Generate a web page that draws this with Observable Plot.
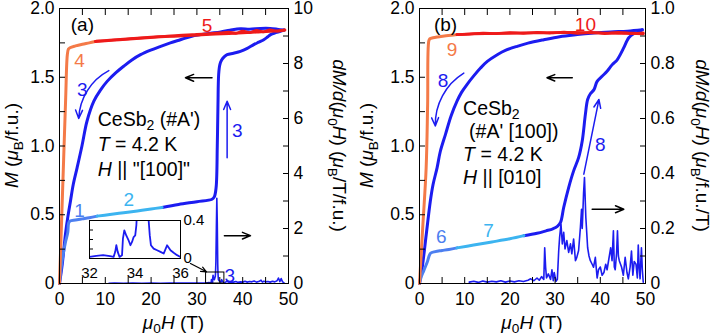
<!DOCTYPE html>
<html><head><meta charset="utf-8">
<script src="https://cdn.jsdelivr.net/npm/d3@7"></script>
<script src="https://cdn.jsdelivr.net/npm/@observablehq/plot@0.6"></script>
<style>
html,body{margin:0;padding:0;background:#fff;}
#wrap{position:relative;width:710px;height:336px;overflow:hidden;background:#fff;}
#wrap svg{position:absolute;top:0;overflow:visible;}
</style></head><body><div id="wrap"></div>
<script>
// ---------- colours / font ----------
const FONT = "'Liberation Sans', Arial, Helvetica, sans-serif";
const BLUE = "#1c1cf0", MBLUE = "#4d7ff0", LBLUE = "#3cb4f0", ORANGE = "#f47a48", RED = "#ee1a1a";

// ---------- ticks ----------
const xMajor = [0, 10, 20, 30, 40, 50];
const xMinor = [0, 5, 10, 15, 20, 25, 30, 35, 40, 45, 50];
const yMajor = [0, 0.5, 1.0, 1.5, 2.0];
const yMinor = [0, 0.25, 0.5, 0.75, 1.0, 1.25, 1.5, 1.75, 2.0];
const rightA = [0, 2, 4, 6, 8, 10];
const rightAMinor = [0, 1, 2, 3, 4, 5, 6, 7, 8, 9, 10];
const rightB = [0, 0.2, 0.4, 0.6, 0.8, 1.0];
const rightBMinor = [0, 0.1, 0.2, 0.3, 0.4, 0.5, 0.6, 0.7, 0.8, 0.9, 1.0];
const insetXDomain = [32, 36];
const insetYDomain = [0, 0.4];
const insetXTicks = [32, 34, 36];
const insetYTicks = [0, 0.4];
const insetYMinor = [0.1, 0.2, 0.3];

// ---------- panel (a) data ----------
const a1H = [0, 0.5, 1.3, 1.8, 2.0, 2.3, 3.5, 5, 6.5, 8.2];
const a1M = [0, 0.15, 0.3, 0.37, 0.44, 0.455, 0.462, 0.47, 0.478, 0.49];
const a2H = [8.2, 11, 14, 17, 20, 22.4];
const a2M = [0.49, 0.502, 0.515, 0.528, 0.542, 0.553];
const a3upH = [22.4, 26, 30, 33.3, 33.8, 34.2, 34.45, 34.6, 34.75, 35.0, 35.4, 36.0, 36.6, 38, 39.5, 41, 42.4, 43.5, 44.6, 45.5, 46.1, 47, 47.9, 49.0];
const a3upM = [0.553, 0.575, 0.595, 0.613, 0.63, 0.7, 1.0, 1.3, 1.52, 1.59, 1.625, 1.65, 1.664, 1.675, 1.688, 1.71, 1.737, 1.755, 1.773, 1.795, 1.81, 1.822, 1.83, 1.843];
const a3dnH = [49.0, 47.5, 46, 43.9, 41.5, 39.5, 37.2, 35.2, 33, 30.8, 28.5, 26.4, 24.2, 22.1, 19.9, 17.7, 15.8, 14.0, 12.2, 10.4, 8.9, 7.5, 6.0, 4.9, 3.85, 3.0, 2.4, 1.8, 1.3, 0.6, 0];
const a3dnM = [1.843, 1.85, 1.855, 1.855, 1.85, 1.853, 1.842, 1.83, 1.82, 1.81, 1.795, 1.773, 1.75, 1.725, 1.697, 1.664, 1.626, 1.58, 1.53, 1.47, 1.405, 1.326, 1.18, 1.0, 0.843, 0.72, 0.6, 0.48, 0.358, 0.14, 0];
const a4H = [0, 0.45, 0.9, 1.35, 1.7, 1.95, 2.3, 3.5, 5, 6.5, 7.8];
const a4M = [0, 0.45, 0.9, 1.35, 1.66, 1.705, 1.715, 1.728, 1.74, 1.75, 1.76];
const a5aH = [7.8, 10, 13, 16, 19, 22, 25, 28, 31, 34, 37, 40, 43, 46, 48, 49.2];
const a5aM = [1.76, 1.765, 1.772, 1.78, 1.787, 1.793, 1.798, 1.803, 1.808, 1.813, 1.818, 1.823, 1.828, 1.833, 1.838, 1.842];
const a5bH = [49.2, 47.5, 46, 44.5, 43, 41.5, 40, 38.5, 37, 35, 32, 29, 26, 23, 20, 17, 14, 11, 8];
const a5bM = [1.845, 1.835, 1.845, 1.83, 1.84, 1.825, 1.835, 1.82, 1.828, 1.822, 1.815, 1.81, 1.805, 1.798, 1.792, 1.785, 1.777, 1.77, 1.762];
const aDmH = [10.8, 12, 14, 16, 18, 20, 22, 24, 26, 28, 30, 31, 32, 32.3, 32.6, 32.9, 33.06, 33.13, 33.18, 33.24, 33.32, 33.43, 33.47, 33.53, 33.62, 33.72, 33.8, 33.87, 33.94, 34.01, 34.06, 34.15, 34.25, 34.35, 34.45, 34.55, 34.6, 34.65, 34.7, 34.82, 34.97, 35.12, 35.26, 35.41, 35.56, 35.7, 35.85, 36, 36.5, 37, 37.5, 38, 38.5, 39, 39.5, 40, 40.5, 41, 41.5, 42, 42.5, 43, 43.5, 44, 44.3, 44.6, 45, 45.5, 46, 46.5, 47, 47.5, 47.8, 48.1, 48.4, 48.7, 49];
const aDmV = [0.01, 0.015, 0.01, 0.015, 0.01, 0.015, 0.01, 0.015, 0.012, 0.015, 0.015, 0.02, 0.017, 0.028, 0.035, 0.025, 0.017, 0.07, 0.14, 0.07, 0.017, 0.035, 0.21, 0.296, 0.24, 0.19, 0.14, 0.174, 0.226, 0.243, 0.35, 0.8, 2.0, 3.1, 2.2, 0.7, 0.4, 0.243, 0.14, 0.104, 0.087, 0.07, 0.052, 0.139, 0.087, 0.06, 0.035, 0.017, 0.08, 0.04, 0.06, 0.05, 0.07, 0.04, 0.06, 0.05, 0.08, 0.05, 0.07, 0.06, 0.09, 0.05, 0.07, 0.12, 0.05, 0.08, 0.06, 0.07, 0.05, 0.08, 0.06, 0.1, 0.2, 0.07, 0.18, 0.06, 0.03];

// ---------- panel (b) data ----------
const b1H = [0, 0.4, 0.95, 1.7, 2.43, 3.5, 5, 6.5, 8.3];
const b1M = [0, 0.05, 0.094, 0.154, 0.22, 0.232, 0.24, 0.248, 0.259];
const b2H = [8.3, 12, 16, 20, 23.1];
const b2M = [0.259, 0.28, 0.302, 0.325, 0.348];
const b3upH = [23.1, 26, 28, 29.5, 30.5, 31.2, 31.9, 33.0, 34.1, 35.2, 36.0, 36.7, 37.2, 37.8, 38.6, 39.3, 40.4, 41.5, 42.6, 43.7, 44.5, 45.2, 46.3, 47.3, 48.2, 49.3];
const b3upM = [0.348, 0.365, 0.383, 0.398, 0.415, 0.444, 0.553, 0.698, 0.819, 0.915, 1.036, 1.23, 1.338, 1.38, 1.41, 1.47, 1.507, 1.543, 1.59, 1.625, 1.67, 1.715, 1.787, 1.815, 1.825, 1.845];
const b3dnH = [49.3, 46, 42.3, 38, 34.9, 31, 27.5, 24, 21.6, 19, 17.2, 15, 13.5, 12, 10.5, 9.3, 8.3, 7, 5.75, 4.6, 3.9, 3.0, 2.4, 1.5, 0.6, 0];
const b3dnM = [1.845, 1.835, 1.83, 1.82, 1.81, 1.795, 1.773, 1.748, 1.725, 1.695, 1.664, 1.615, 1.567, 1.51, 1.447, 1.39, 1.326, 1.22, 1.085, 0.96, 0.843, 0.72, 0.6, 0.358, 0.116, 0];
const b4H = [0, 0.7, 1.47, 1.8, 2.06, 2.3, 3, 4, 5.5, 7, 8.3];
const b4M = [0, 0.4, 0.84, 1.3, 1.765, 1.78, 1.787, 1.793, 1.8, 1.805, 1.81];
const b5aH = [8.3, 12, 16, 20, 24, 28, 32, 36, 40, 44, 47, 49.5];
const b5aM = [1.81, 1.815, 1.818, 1.82, 1.823, 1.823, 1.825, 1.825, 1.822, 1.82, 1.82, 1.815];
const b5bH = [49.5, 47, 44, 41, 38, 35, 32, 29, 26, 23, 20, 17, 14, 11, 8.3];
const b5bM = [1.822, 1.818, 1.826, 1.818, 1.827, 1.82, 1.828, 1.822, 1.826, 1.82, 1.824, 1.818, 1.82, 1.814, 1.81];
const bDmH = [11, 12, 13, 14, 15, 16, 17, 18, 19, 20, 21, 22, 23, 24, 24.6, 25.3, 26, 26.5, 27, 27.5, 27.7, 27.9, 28.1, 28.5, 29, 29.3, 29.6, 29.8, 30.2, 30.5, 30.8, 31.0, 31.3, 31.6, 31.9, 32.2, 32.6, 33.0, 33.4, 33.7, 34.1, 34.5, 34.8, 35.2, 35.6, 35.85, 36.0, 36.1, 36.3, 36.5, 36.8, 37.2, 37.5, 37.8, 38.2, 38.5, 38.9, 39.3, 39.6, 40.0, 40.4, 40.8, 41.2, 41.5, 41.9, 42.3, 42.6, 42.9, 43.1, 43.3, 43.6, 43.8, 44.0, 44.2, 44.7, 45.1, 45.5, 45.9, 46.2, 46.6, 46.9, 47.2, 47.5, 47.9, 48.2, 48.4, 48.6, 48.8, 49.1, 49.3, 49.5];
const bDmV = [0.005, 0.008, 0.004, 0.009, 0.005, 0.008, 0.006, 0.01, 0.005, 0.009, 0.006, 0.01, 0.007, 0.012, 0.017, 0.01, 0.02, 0.012, 0.025, 0.015, 0.13, 0.06, 0.02, 0.035, 0.015, 0.05, 0.01, 0.04, 0.008, 0.015, 0.12, 0.168, 0.216, 0.144, 0.186, 0.126, 0.156, 0.113, 0.144, 0.108, 0.162, 0.083, 0.095, 0.12, 0.204, 0.27, 0.2, 0.24, 0.33, 0.385, 0.24, 0.13, 0.1, 0.083, 0.07, 0.059, 0.095, 0.02, 0.05, 0.06, 0.03, 0.04, 0.07, 0.05, 0.09, 0.13, 0.083, 0.192, 0.06, 0.05, 0.11, 0.192, 0.1, 0.083, 0.06, 0.03, 0.095, 0.04, 0.017, 0.06, 0.118, 0.03, 0.08, 0.07, 0.02, 0.14, 0.06, 0.017, 0.13, 0.05, 0.005];

// ---------- annotations ----------
const labelsA = [
  {t: "(a)", x: 5.0, y: 1.884, c: "black"},
  {t: "5", x: 32.2, y: 1.87, c: RED},
  {t: "4", x: 4.4, y: 1.616, c: ORANGE},
  {t: "3", x: 4.95, y: 1.41, c: BLUE},
  {t: "1", x: 4.4, y: 0.529, c: MBLUE},
  {t: "2", x: 15.1, y: 0.606, c: LBLUE},
  {t: "3", x: 38.8, y: 1.11, c: BLUE},
  {t: "3", x: 37.2, y: 0.058, c: BLUE}
];
const arrowsA = [
  {x1: 33.3, y1: 1.496, x2: 27.5, y2: 1.496, c: "black", bend: 0, w: 1.5},
  {x1: 36.0, y1: 0.348, x2: 41.7, y2: 0.348, c: "black", bend: 0, w: 1.5},
  {x1: 36.6, y1: 0.915, x2: 36.6, y2: 1.326, c: BLUE, bend: 0, w: 1.5},
  {x1: 10.77, y1: 1.548, x2: 4.2, y2: 1.2, c: BLUE, bend: -30, w: 1.5},
  {x1: 28.6, y1: 0.145, x2: 32.1, y2: 0.085, c: "black", bend: 0, w: 1.2}
];
const labelsB = [
  {t: "(b)", x: 5.75, y: 1.88, c: "black"},
  {t: "10", x: 36.7, y: 1.88, c: RED},
  {t: "9", x: 7.2, y: 1.70, c: ORANGE},
  {t: "8", x: 5.2, y: 1.47, c: BLUE},
  {t: "8", x: 40.0, y: 1.01, c: BLUE},
  {t: "6", x: 4.8, y: 0.336, c: MBLUE},
  {t: "7", x: 15.3, y: 0.384, c: LBLUE}
];
const arrowsB = [
  {x1: 33.8, y1: 1.496, x2: 28.2, y2: 1.496, c: "black", bend: 0, w: 1.5},
  {x1: 38.2, y1: 0.54, x2: 45.2, y2: 0.54, c: "black", bend: 0, w: 1.5},
  {x1: 36.35, y1: 0.795, x2: 39.7, y2: 1.338, c: BLUE, bend: 0, w: 1.5},
  {x1: 9.8, y1: 1.53, x2: 3.5, y2: 1.145, c: BLUE, bend: -30, w: 1.5}
];

// ---------- helpers ----------
const pts = (H, M, k = 1) => H.map((h, i) => ({H: h, M: M[i] * k}));

function rich(svg, x, y, parts, {size = 20, anchor = "start", rotate = 0, fill = "black", sub = 0.25} = {}) {
  const t = d3.select(svg).append("text")
    .attr("transform", `translate(${x},${y})` + (rotate ? ` rotate(${rotate})` : ""))
    .attr("text-anchor", anchor).attr("font-size", size)
    .attr("font-family", FONT).attr("fill", fill);
  let shift = 0;
  for (const [s, fl = ""] of parts) {
    const ts = t.append("tspan").text(s);
    let target = 0;
    if (fl.includes("i")) ts.attr("font-style", "italic");
    if (fl.includes("s")) { ts.attr("font-size", size * 0.72); target = size * sub; }
    if (target !== shift) { ts.attr("dy", target - shift); shift = target; }
  }
  return t;
}

const mLine = (data, stroke, w = 3) => Plot.line(data, {x: "H", y: "M", stroke, strokeWidth: w, curve: "catmull-rom", strokeLinejoin: "round", strokeLinecap: "round"});

function panel(o) {
  const k = 2 / o.rightMax;
  const marks = [
    Plot.line(pts(o.dmH, o.dmV, k), {x: "H", y: "M", stroke: BLUE, strokeWidth: 1.6, strokeLinejoin: "round"}),
    mLine(pts(o.dnH, o.dnM), BLUE),
    mLine(pts(o.upH, o.upM), BLUE),
    mLine(pts(o.s1H, o.s1M), MBLUE),
    mLine(pts(o.s2H, o.s2M), LBLUE),
    mLine(pts(o.orH, o.orM), ORANGE),
    mLine(pts(o.r1H, o.r1M), RED, 2.8),
    mLine(pts(o.r2H, o.r2M), RED, 2.8),
    // axes: labels
    Plot.axisX({anchor: "bottom", ticks: xMajor, tickSize: 0, tickPadding: 9, fontSize: 17.5, label: null, tickFormat: d => String(d)}),
    Plot.axisY({anchor: "left", ticks: yMajor, tickSize: 0, tickPadding: 5, fontSize: 17.5, label: null, tickFormat: d => d === 0 ? "0" : d.toFixed(1)}),
    Plot.axisY({anchor: "right", ticks: o.rightTicks.map(v => v * k), tickSize: 0, tickPadding: 5, fontSize: 17.5, label: null, tickFormat: m => o.rightFmt(m / k)}),
    // axes: inward ticks
    Plot.axisX({anchor: "bottom", ticks: xMinor, tickSize: -6, fill: "none", label: null}),
    Plot.axisX({anchor: "top", ticks: xMinor, tickSize: -6, fill: "none", label: null}),
    Plot.axisY({anchor: "left", ticks: yMinor, tickSize: -6, fill: "none", label: null}),
    Plot.axisY({anchor: "right", ticks: o.rightMinor.map(v => v * k), tickSize: -6, fill: "none", label: null}),
    Plot.frame({stroke: "black", strokeWidth: 1}),
    Plot.text(o.labels, {x: "x", y: "y", text: "t", fill: "c", fontSize: 19})
  ];
  if (o.rect) marks.push(Plot.rect([{x1: insetXDomain[0], x2: insetXDomain[1], y1: insetYDomain[0] * k, y2: insetYDomain[1] * k}], {x1: "x1", x2: "x2", y1: "y1", y2: "y2", fill: "none", stroke: "black", strokeWidth: 1}));
  for (const a of o.arrows) marks.push(Plot.arrow([a], {x1: "x1", y1: "y1", x2: "x2", y2: "y2", stroke: a.c, strokeWidth: a.w, bend: a.bend, headLength: 9, headAngle: 45}));
  const svg = Plot.plot({
    width: 355, height: 336,
    marginLeft: o.ml, marginRight: o.mr, marginTop: 8, marginBottom: 53,
    x: {domain: [0, 50]}, y: {domain: [0, 2]},
    color: {type: "identity"},
    style: {fontFamily: FONT, fontSize: "18px", background: "transparent", color: "black", overflow: "visible"},
    marks
  });
  svg.style.left = o.left + "px";
  const fx = svg.scale("x").apply, fy = svg.scale("y").apply;
  const x0 = fx(0), x1 = fx(50), yTop = fy(2), yBot = fy(0);
  const cy = (yTop + yBot) / 2;
  // axis titles
  rich(svg, (x0 + x1) / 2, 329, [["μ", "i"], ["0", "s"], ["H", "i"], [" (T)"]], {size: 19, anchor: "middle", sub: 0.22});
  rich(svg, 18, cy, [["M", "i"], [" ("], ["μ", "i"], ["B", "s"], ["/f.u.)"]], {size: 19, anchor: "middle", rotate: -90});
  rich(svg, x1 + o.rlabDx, cy, [["dM/d", "i"], ["("], ["μ", "i"], ["0", "s"], ["H", "i"], [") ("], ["μ", "i"], ["B", "s"], [o.rightUnit]], {size: 19, anchor: "middle", rotate: 90});
  // sample text block
  const tx = fx(o.textH);
  o.textLines.forEach((ln, i) => rich(svg, tx + (ln.dx || 0), fy(o.textM) + i * o.textStep, ln.parts, {size: 19.5, sub: 0.22}));
  document.getElementById("wrap").appendChild(svg);
  return svg;
}

panel({
  left: 0, ml: 59, mr: 67, rightMax: 10, rightTicks: rightA, rightMinor: rightAMinor,
  rightFmt: v => String(Math.round(v)), rightUnit: "/T/f.u.)", rlabDx: 45,
  dmH: aDmH, dmV: aDmV, dnH: a3dnH, dnM: a3dnM, upH: a3upH, upM: a3upM,
  s1H: a1H, s1M: a1M, s2H: a2H, s2M: a2M, orH: a4H, orM: a4M,
  r1H: a5aH, r1M: a5aM, r2H: a5bH, r2M: a5bM,
  labels: labelsA, arrows: arrowsA, rect: true,
  textH: 8.45, textM: 1.145, textStep: 25,
  textLines: [
    {parts: [["CeSb"], ["2", "s"], [" (#A')"]]},
    {parts: [["T", "i"], [" = 4.2 K"]]},
    {parts: [["H", "i"], [" || \"[100]\""]]}
  ]
});

panel({
  left: 355, ml: 64, mr: 65, rightMax: 1, rightTicks: rightB, rightMinor: rightBMinor,
  rightFmt: v => Math.abs(v) < 1e-9 ? "0" : v.toFixed(1), rightUnit: "/f.u./T)", rlabDx: 51,
  dmH: bDmH, dmV: bDmV, dnH: b3dnH, dnM: b3dnM, upH: b3upH, upM: b3upM,
  s1H: b1H, s1M: b1M, s2H: b2H, s2M: b2M, orH: b4H, orM: b4M,
  r1H: b5aH, r1M: b5aM, r2H: b5bH, r2M: b5bM,
  labels: labelsB, arrows: arrowsB, rect: false,
  textH: 9.75, textM: 1.225, textStep: 23,
  textLines: [
    {parts: [["CeSb"], ["2", "s"]]},
    {parts: [["(#A' [100])"]], dx: 6},
    {parts: [["T", "i"], [" = 4.2 K"]]},
    {parts: [["H", "i"], [" || [010]"]]}
  ]
});

// ---------- inset of panel (a) ----------
const inData = pts(aDmH, aDmV).filter(d => d.H >= 31.9 && d.H <= 36.1);
const inset = Plot.plot({
  width: 150, height: 80, marginLeft: 10, marginRight: 49, marginTop: 5, marginBottom: 37,
  x: {domain: insetXDomain}, y: {domain: insetYDomain},
  style: {fontFamily: FONT, fontSize: "15px", background: "transparent", color: "black", overflow: "visible"},
  marks: [
    Plot.line(inData, {x: "H", y: "M", stroke: BLUE, strokeWidth: 1.8, clip: true, strokeLinejoin: "round"}),
    Plot.axisY({anchor: "right", ticks: insetYTicks, tickSize: 0, tickPadding: 3, fontSize: 15, label: null, tickFormat: d => d === 0 ? "0" : d.toFixed(1)}),
    Plot.axisX({anchor: "bottom", ticks: insetXTicks, tickSize: 0, tickPadding: 9, fontSize: 15, label: null, tickFormat: d => String(d)}),
    Plot.axisY({anchor: "left", ticks: insetYMinor, tickSize: -4, fill: "none", label: null}),
    Plot.frame({stroke: "black", strokeWidth: 1})
  ]
});
inset.style.left = "79px";
inset.style.top = "215px";
document.getElementById("wrap").appendChild(inset);
</script></body></html>
